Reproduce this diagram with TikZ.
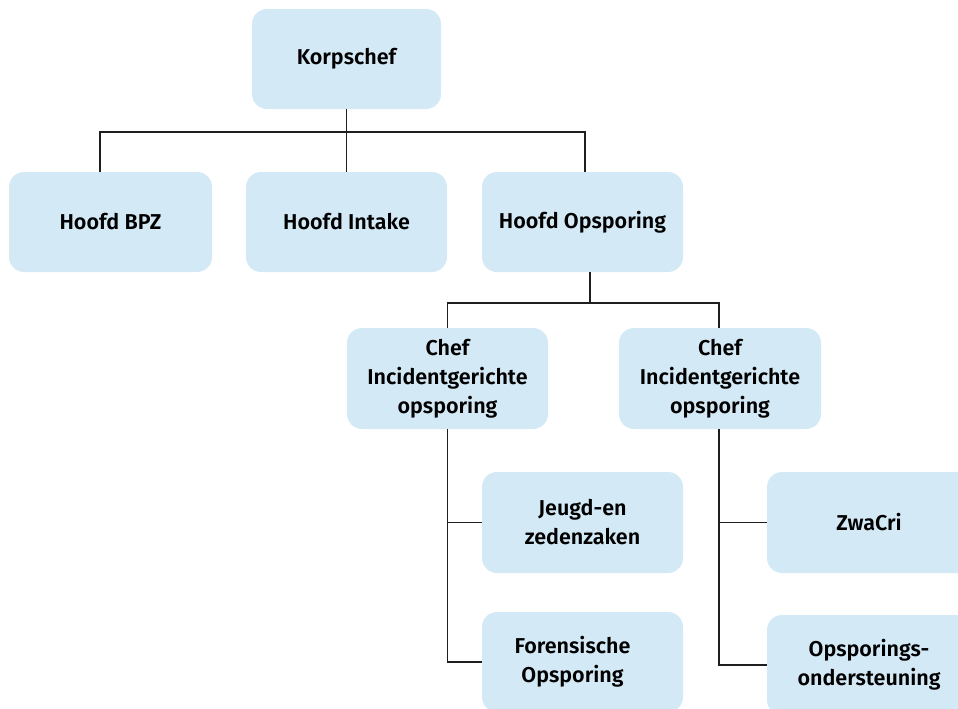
\documentclass[tikz,border=0pt]{standalone}
\usepackage{fontspec}
\setmainfont{Fira Sans}[BoldFont={Fira Sans SemiBold}]
\definecolor{boxblue}{RGB}{212,233,246}
\definecolor{linegray}{RGB}{30,30,30}
\tikzset{
  orgbox/.style={rectangle, rounded corners=15pt, fill=boxblue, draw=none,
    minimum height=100pt, align=center, inner sep=0pt,
    font=\fontsize{21.5}{29}\selectfont\bfseries},
  conn/.style={draw=linegray, line width=1.3pt}
}
\begin{document}
\begin{tikzpicture}[x=1pt,y=-1pt]
\useasboundingbox (0,0) rectangle (958,709);
\clip (0,0) rectangle (958,709);
\coordinate (busA) at (346.5,132);
\coordinate (busB) at (590,303);

\node[orgbox, minimum width=189pt] (korps) at (346.5,59) {Korpschef};
\node[orgbox, minimum width=203pt] (bpz) at (110.5,222) {Hoofd BPZ};
\node[orgbox, minimum width=201pt] (intake) at (346.5,222) {Hoofd Intake};
\node[orgbox, minimum width=201pt] (opsp) at (582.5,222) {Hoofd Opsporing};
\node[orgbox, minimum width=201pt, minimum height=101pt] (chefL) at (447.5,378.5) {Chef\\Incidentgerichte\\opsporing};
\node[orgbox, minimum width=202pt, minimum height=101pt] (chefR) at (720,378.5) {Chef\\Incidentgerichte\\opsporing};
\node[orgbox, minimum width=201pt, minimum height=101pt] (jeugd) at (582.5,522.5) {Jeugd-en\\zedenzaken};
\node[orgbox, minimum width=201pt] (foren) at (582.5,662) {Forensische\hspace*{20pt}\\Opsporing\hspace*{20pt}};
\node[orgbox, minimum width=204pt, minimum height=101pt] (zwacri) at (869,522.5) {ZwaCri};
\node[orgbox, minimum width=204pt] (ondst) at (869,665) {Opsporings-\\ondersteuning};

\draw[conn] (korps.south) -- (busA);
\draw[conn] ([xshift=-10.5pt]bpz.north) |- (busA) -| ([xshift=2.5pt]opsp.north);
\draw[conn] (busA) -- (intake.north);
\draw[conn] ([xshift=7.5pt]opsp.south) -- (busB);
\draw[conn] (chefL.north) |- (busB) -| ([xshift=-1pt]chefR.north);
\draw[conn] (chefL.south) |- (foren.west);
\draw[conn] (chefL.south |- jeugd.west) -- (jeugd.west);
\draw[conn] ([xshift=-1pt]chefR.south) |- (ondst.west);
\draw[conn] ([xshift=-1pt]chefR.south |- zwacri.west) -- (zwacri.west);
\end{tikzpicture}
\end{document}
